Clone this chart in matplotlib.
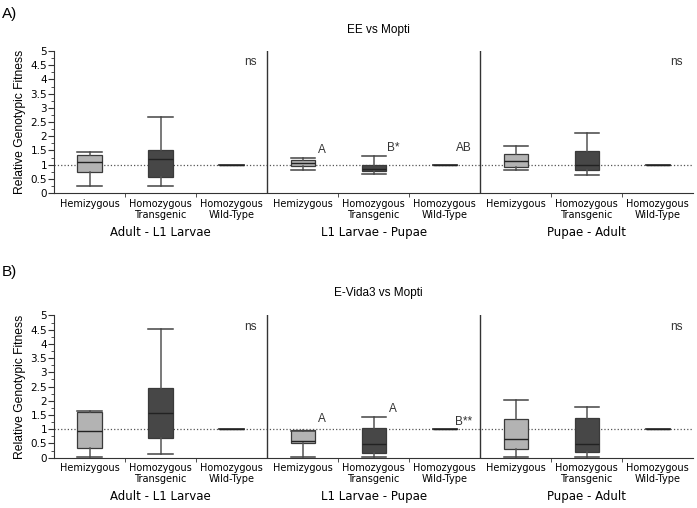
import matplotlib.pyplot as plt
import numpy as np
from matplotlib.transforms import blended_transform_factory

# categories / groups
categories = ['Hemizygous', 'Homozygous\nTransgenic', 'Homozygous\nWild-Type'] * 3
stages = ['Adult - L1 Larvae', 'L1 Larvae - Pupae', 'Pupae - Adult']
y_ticks = [0, 0.5, 1, 1.5, 2, 2.5, 3, 3.5, 4, 4.5, 5]
y_labels = ['0', '0.5', '1', '1.5', '2', '2.5', '3', '3.5', '4', '4.5', '5']

# EE vs Mopti  (whisker low, q1, median, q3, whisker high)
ee_wlo = [0.26, 0.25, 1.0, 0.81, 0.67, 1.0, 0.82, 0.65, 1.0]
ee_q1  = [0.74, 0.57, 1.0, 0.94, 0.76, 1.0, 0.90, 0.80, 1.0]
ee_med = [1.09, 1.19, 1.0, 1.05, 0.86, 1.0, 1.13, 1.00, 1.0]
ee_q3  = [1.33, 1.50, 1.0, 1.16, 1.00, 1.0, 1.38, 1.47, 1.0]
ee_whi = [1.46, 2.67, 1.0, 1.23, 1.29, 1.0, 1.67, 2.12, 1.0]
ee_marks = ['', '', 'ns', 'A', 'B*', 'AB', '', '', 'ns']
ee_mark_y = [0, 0, 4.6, 1.52, 1.6, 1.6, 0, 0, 4.6]

# E-Vida3 vs Mopti
ev_wlo = [0.01, 0.13, 1.0, 0.01, 0.01, 1.0, 0.01, 0.01, 1.0]
ev_q1  = [0.35, 0.68, 1.0, 0.50, 0.15, 1.0, 0.29, 0.20, 1.0]
ev_med = [0.94, 1.58, 1.0, 0.60, 0.47, 1.0, 0.65, 0.49, 1.0]
ev_q3  = [1.60, 2.46, 1.0, 0.97, 1.04, 1.0, 1.36, 1.39, 1.0]
ev_whi = [1.64, 4.52, 1.0, 0.93, 1.42, 1.0, 2.04, 1.78, 1.0]
ev_marks = ['', '', 'ns', 'A', 'A', 'B**', '', '', 'ns']
ev_mark_y = [0, 0, 4.6, 1.36, 1.7, 1.27, 0, 0, 4.6]

box_colors = ['#b3b3b3', '#474747', '#ffffff'] * 3
arial = 'Liberation Sans'


def draw_panel(ax, wlo, q1, med, q3, whi, marks, mark_y):
    stats = []
    for i in range(9):
        stats.append(dict(whislo=wlo[i], q1=q1[i], med=med[i], q3=q3[i],
                          whishi=whi[i], fliers=[]))
    pos = np.arange(1, 10)
    bp = ax.bxp(stats, positions=pos, widths=0.34, capwidths=0.34,
                patch_artist=True, showfliers=False,
                boxprops=dict(edgecolor='#3a3a3a', linewidth=0.9),
                whiskerprops=dict(color='#555555', linewidth=1.1),
                capprops=dict(color='#444444', linewidth=1.1),
                medianprops=dict(color='#222222', linewidth=1.0))
    for patch, c in zip(bp['boxes'], box_colors):
        patch.set_facecolor(c)
    ax.axhline(1.0, color='#555555', linestyle=':', linewidth=0.9, zorder=0)
    for xv in (3.5, 6.5):
        ax.axvline(xv, color='#333333', linewidth=1.0)
    ax.set_xlim(0.5, 9.5)
    ax.spines['top'].set_visible(False)
    ax.spines['right'].set_visible(False)
    ax.spines['left'].set_color('#333333')
    ax.spines['bottom'].set_color('#333333')
    ax.set_xticks(pos)
    ax.set_xticklabels(categories, fontsize=7, linespacing=1.15)
    ax.set_xticks([1.5, 2.5, 4.5, 5.5, 7.5, 8.5], minor=True)
    ax.tick_params(axis='x', which='major', length=0, pad=4)
    ax.tick_params(axis='x', which='minor', length=3, direction='out', color='#333333')
    ax.set_yticks(y_ticks)
    ax.set_yticklabels(y_labels)
    ax.set_yticks(np.arange(0.25, 5, 0.5), minor=True)
    ax.set_ylim(0, 5)
    ax.tick_params(axis='y', which='major', length=4, labelsize=7.5, pad=1, color='#333333')
    ax.tick_params(axis='y', which='minor', length=2, color='#333333')
    ax.set_ylabel('Relative Genotypic Fitness', fontsize=8.7, family=arial, labelpad=3)
    for i in range(9):
        if marks[i]:
            ax.text(pos[i] + 0.27, mark_y[i], marks[i], fontsize=8.5, family=arial,
                    ha='center', va='center', color='#333333')
    tr = blended_transform_factory(ax.transData, ax.transAxes)
    for g, name in enumerate(stages):
        ax.text(2 + 3 * g, -0.275, name, transform=tr, fontsize=8.5,
                ha='center', va='center')


fig = plt.figure(figsize=(6.97, 5.08), dpi=100)
ax1 = fig.add_axes([0.0775, 0.620, 0.917, 0.2795])
ax2 = fig.add_axes([0.0775, 0.099, 0.917, 0.280])

draw_panel(ax1, ee_wlo, ee_q1, ee_med, ee_q3, ee_whi, ee_marks, ee_mark_y)
draw_panel(ax2, ev_wlo, ev_q1, ev_med, ev_q3, ev_whi, ev_marks, ev_mark_y)

fig.text(378 / 697, 1 - 30 / 508, 'EE vs Mopti', fontsize=8.5, family=arial,
         ha='center', va='center')
fig.text(378 / 697, 1 - 293 / 508, 'E-Vida3 vs Mopti', fontsize=8.5, family=arial,
         ha='center', va='center')
fig.text(0.003, 1 - 14 / 508, 'A)', fontsize=11, family=arial, ha='left', va='center')
fig.text(0.003, 1 - 272 / 508, 'B)', fontsize=11, family=arial, ha='left', va='center')

fig.savefig('out.png', dpi=100)
